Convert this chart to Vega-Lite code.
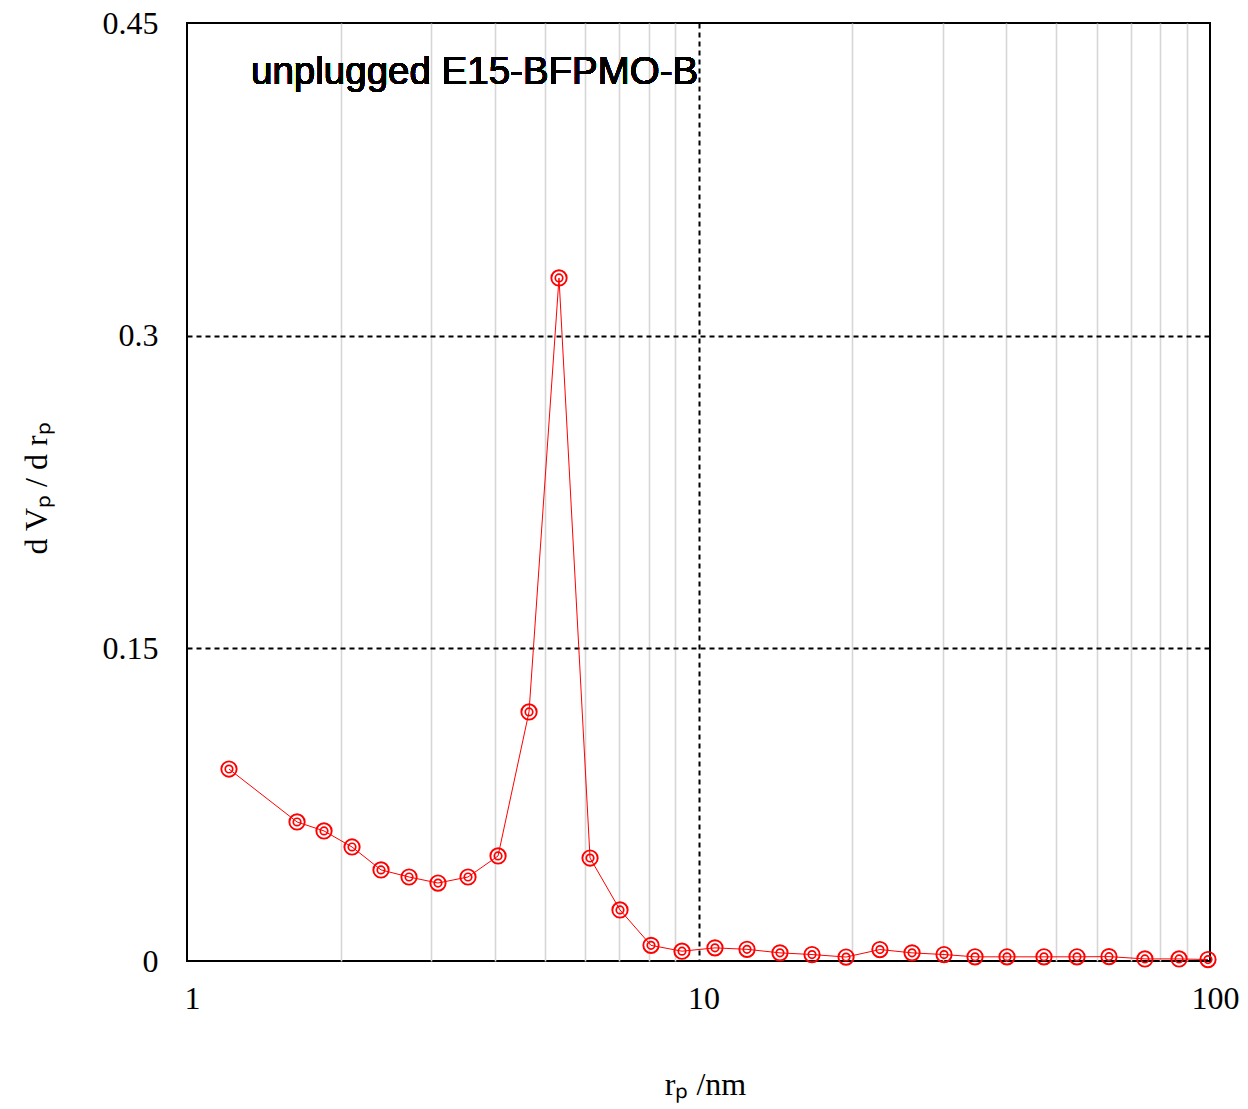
{
  "$schema": "https://vega.github.io/schema/vega-lite/v6.json",
  "width": 1023,
  "height": 938,
  "autosize": {"type": "none"},
  "padding": {"left": 187, "top": 23, "right": 38, "bottom": 148},
  "background": "white",
  "config": {
    "view": {"stroke": "black", "strokeWidth": 2},
    "axis": {
      "domain": false,
      "ticks": false,
      "labelFont": "Liberation Serif",
      "labelFontSize": 32,
      "labelColor": "black",
      "titleFont": "Liberation Serif",
      "titleFontSize": 32,
      "titleFontWeight": "normal",
      "titleColor": "black"
    }
  },
  "data": {
    "values": [
      {"r": 1.208, "v": 0.0921},
      {"r": 1.641, "v": 0.0667},
      {"r": 1.853, "v": 0.0624},
      {"r": 2.102, "v": 0.0547},
      {"r": 2.395, "v": 0.0437},
      {"r": 2.717, "v": 0.0403},
      {"r": 3.095, "v": 0.0374},
      {"r": 3.543, "v": 0.0403},
      {"r": 4.056, "v": 0.0504},
      {"r": 4.663, "v": 0.1195},
      {"r": 5.337, "v": 0.3277},
      {"r": 6.137, "v": 0.0494},
      {"r": 7.023, "v": 0.0245},
      {"r": 8.075, "v": 0.0075},
      {"r": 9.284, "v": 0.0047},
      {"r": 10.77, "v": 0.0063},
      {"r": 12.44, "v": 0.0056},
      {"r": 14.43, "v": 0.0039},
      {"r": 16.67, "v": 0.0031},
      {"r": 19.43, "v": 0.0019},
      {"r": 22.63, "v": 0.0055},
      {"r": 26.15, "v": 0.0039},
      {"r": 30.2, "v": 0.0031},
      {"r": 34.72, "v": 0.002},
      {"r": 40.1, "v": 0.002},
      {"r": 47.36, "v": 0.002},
      {"r": 54.95, "v": 0.002},
      {"r": 63.46, "v": 0.0021},
      {"r": 74.6, "v": 0.001},
      {"r": 87.0, "v": 0.001},
      {"r": 99.1, "v": 0.0007}
    ]
  },
  "layer": [
    {
      "mark": {"type": "line", "color": "#ff0000", "strokeWidth": 1},
      "encoding": {
        "x": {
          "field": "r", "type": "quantitative",
          "scale": {"type": "log", "domain": [1, 100], "nice": false},
          "axis": {
            "orient": "bottom",
            "values": [2, 3, 4, 5, 6, 7, 8, 9, 20, 30, 40, 50, 60, 70, 80, 90],
            "labels": false, "grid": true, "gridColor": "#d6d6d6", "gridWidth": 1.6, "title": null
          }
        },
        "y": {
          "field": "v", "type": "quantitative",
          "scale": {"domain": [0, 0.45], "nice": false, "zero": false},
          "axis": null
        }
      }
    },
    {
      "mark": {"type": "point", "shape": "circle", "filled": false, "color": "#ff0000", "strokeWidth": 1.9, "size": 235, "opacity": 1},
      "encoding": {
        "x": {
          "field": "r", "type": "quantitative",
          "axis": {
            "orient": "bottom",
            "values": [1, 10, 100], "format": "d", "grid": false,
            "labelPadding": 22, "labelFlush": false, "labelOffset": 5,
            "title": "rₚ /nm", "titlePadding": 55, "titleX": 518
          }
        },
        "y": {
          "field": "v", "type": "quantitative",
          "axis": {
            "orient": "left",
            "values": [0, 0.15, 0.3, 0.45], "grid": false,
            "labelPadding": 29,
            "labelExpr": "datum.value === 0 ? '0' : format(datum.value, '')",
            "title": "d Vₚ / d rₚ", "titlePadding": 49, "titleY": 465
          }
        }
      }
    },
    {
      "mark": {"type": "point", "shape": "circle", "filled": false, "color": "#ff0000", "strokeWidth": 1.7, "size": 56, "opacity": 1},
      "encoding": {
        "x": {
          "field": "r", "type": "quantitative",
          "axis": {
            "orient": "bottom",
            "values": [10], "labels": false, "grid": true,
            "gridColor": "black", "gridDash": [5, 4], "gridWidth": 2, "title": null
          }
        },
        "y": {
          "field": "v", "type": "quantitative",
          "axis": {
            "orient": "left",
            "values": [0.15, 0.3], "labels": false, "grid": true,
            "gridColor": "black", "gridDash": [5, 4], "gridWidth": 2, "title": null
          }
        }
      }
    },
    {
      "mark": {"type": "text", "font": "Liberation Sans", "fontSize": 38.5, "align": "left", "baseline": "alphabetic", "color": "black"},
      "encoding": {
        "x": {"datum": 1.334, "type": "quantitative", "axis": null},
        "y": {"datum": 0.4207, "type": "quantitative", "axis": null},
        "text": {"value": "unplugged E15-BFPMO-B"}
      }
    }
  ],
  "resolve": {"axis": {"x": "independent", "y": "independent"}}
}
